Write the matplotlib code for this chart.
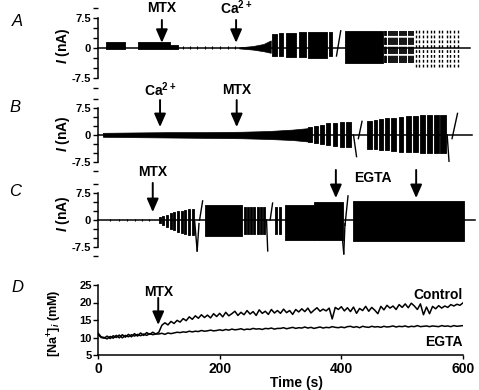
import numpy as np
import matplotlib
matplotlib.use('Agg')
from matplotlib import pyplot as plt
from matplotlib.ticker import MultipleLocator, FixedLocator

plt.rcParams['font.family'] = ['Liberation Sans', 'DejaVu Sans']
plt.rcParams['font.weight'] = 'bold'
plt.rcParams['mathtext.fontset'] = 'custom'
plt.rcParams['mathtext.rm'] = 'Liberation Sans:bold'
plt.rcParams['mathtext.it'] = 'Liberation Sans:italic:bold'
plt.rcParams['mathtext.bf'] = 'Liberation Sans:bold'

# ---------------- data (time in s, current in nA) ----------------
# blocks: (t_start, t_end, top, bottom) -> dense oscillation envelopes
# strokes: (t, top, bottom) -> single visible current swings
# spikes: (t0, y0, t1, y1) -> transient deflections

# panel A
a_blocks = [(13, 44, 1.4, -0.3), (66, 118, 1.4, -0.3), (118, 131, 0.8, -0.2),
            (286, 294, 3.5, -2.0), (298, 304, 3.7, -2.0), (309, 325, 3.8, -2.2),
            (330, 342, 4.0, -2.3), (345, 376, 4.1, -2.4), (380, 385, 4.0, -2.0),
            (406, 469, 4.3, -3.8)]
a_wedge_t = [232, 255, 272, 284]
a_wedge_hi = [0.15, 0.5, 1.0, 1.9]
a_wedge_lo = [-0.1, -0.4, -0.8, -1.2]
a_noise = [140, 152, 163, 176, 188, 201, 214, 226]
a_dense = [471, 474, 478, 481, 485, 489, 492, 496, 500, 503, 507, 511, 515, 518]
a_sparse = [523, 528, 534, 541, 547, 553, 560, 566, 573, 579, 586, 592]
a_spikes = [(392, -2.0, 399, 4.3)]

# panel B
b_band_t = [8, 60, 120, 180, 235, 280, 320, 345]
b_band_hi = [0.6, 0.7, 0.8, 0.8, 0.9, 1.1, 1.5, 1.9]
b_band_lo = [-0.5, -0.6, -0.7, -0.8, -0.9, -1.1, -1.4, -1.8]
b_blocks = [(345, 351, 2.2, -2.0), (355, 361, 2.6, -2.3), (365, 371, 2.9, -2.6),
            (375, 382, 3.2, -2.9), (386, 393, 3.4, -3.1), (397, 404, 3.5, -3.2),
            (408, 416, 3.6, -3.4),
            (443, 450, 4.0, -3.8), (453, 459, 4.2, -4.0), (462, 469, 4.4, -4.1),
            (472, 479, 4.6, -4.3), (482, 490, 4.8, -4.4), (494, 502, 5.0, -4.6),
            (506, 514, 5.2, -4.7), (518, 526, 5.4, -4.8), (530, 538, 5.5, -4.9),
            (541, 549, 5.6, -5.0), (552, 560, 5.6, -5.0), (563, 572, 5.6, -5.1)]
b_spikes = [(420, 0.0, 425, -6.0), (428, -1.0, 434, 3.8),
            (574, 0.0, 577, -7.3), (582, -1.0, 591, 6.0)]

# panel C
c_noise = [20, 35, 48, 60, 72, 84]
c_blocks = [(100, 103, 0.7, -0.9), (106, 109, 1.1, -1.5), (112, 115, 1.5, -2.0),
            (118, 121, 1.9, -2.5), (124, 127, 2.2, -2.9), (130, 133, 2.4, -3.3),
            (136, 139, 2.6, -3.6), (142, 145, 2.8, -3.9), (148, 151, 3.0, -4.1),
            (154, 157, 3.1, -4.3),
            (176, 237, 4.2, -4.4),
            (240, 243, 3.6, -3.9), (245, 248, 3.6, -3.9), (250, 253, 3.6, -3.9),
            (255, 258, 3.6, -3.9), (261, 264, 3.6, -3.9), (266, 269, 3.6, -3.9),
            (271, 274, 3.6, -3.9), (291, 294, 3.6, -3.9), (298, 301, 3.6, -3.9),
            (307, 355, 4.3, -5.5), (355, 402, 4.9, -5.5),
            (419, 602, 5.3, -5.8)]
c_spikes = [(159, -0.5, 163, -8.6), (163, -8.6, 166, -1.0), (167, 0.0, 172, 5.3),
            (277, 0.0, 279, -8.6), (283, 0.0, 287, 4.7),
            (402, -5.5, 404, -9.4), (404, -9.4, 406, -1.0), (406, -1.5, 411, 6.7)]

# panel D: [Na+]i (mM) every 5 s
d_time = np.arange(0, 601, 5)
d_control = [11.3, 10.2, 10.0, 9.6, 10.3, 9.8, 10.6, 9.9, 10.8, 10.1,
             10.9, 10.2, 11.1, 10.4, 11.3, 10.6, 11.4, 10.9, 11.5, 11.0,
             11.5, 13.5, 14.2, 13.6, 14.6, 14.0, 14.9, 14.4, 15.4, 14.8,
             15.9, 15.2, 16.2, 15.5, 16.5, 15.7, 16.4, 15.6, 16.8, 16.0,
             16.9, 15.9, 17.2, 16.2, 16.8, 17.5, 16.3, 17.2, 16.5, 17.7,
             16.7, 17.4, 16.3, 17.9, 16.9, 17.5, 16.6, 18.0, 17.0, 17.7,
             16.9, 18.1, 17.1, 17.7, 16.6, 18.0, 17.3, 18.2, 17.4, 18.4,
             17.0, 17.8, 18.5, 17.5, 18.1, 17.6, 18.4, 15.3, 18.6, 18.0,
             18.8, 17.6, 18.5, 17.4, 18.7, 16.9, 18.3, 17.7, 18.9, 17.5,
             18.6, 17.8, 16.8, 18.9, 17.9, 19.2, 18.4, 19.0, 18.0, 19.4,
             18.6, 19.6, 18.5, 19.8, 19.0, 18.0, 19.6, 16.5, 18.7, 16.8,
             18.9, 18.2, 19.1, 18.4, 19.0, 18.6, 19.4, 19.0, 19.5, 19.2,
             19.9]
d_egta = [10.9, 10.0, 9.8, 10.4, 9.7, 10.5, 10.0, 10.7, 9.9, 10.6,
          10.2, 10.8, 10.4, 10.9, 10.5, 11.0, 10.6, 11.1, 10.8, 11.0,
          11.0, 11.2, 10.9, 11.3, 11.1, 11.3, 11.5, 11.4, 11.6, 11.5,
          11.8, 11.6, 11.8, 11.7, 12.0, 11.8, 11.9, 12.1, 11.9, 12.0,
          12.2, 12.0, 12.3, 12.1, 12.4, 12.2, 12.3, 12.5, 12.2, 12.4,
          12.3, 12.6, 12.4, 12.5, 12.3, 12.6, 12.5, 12.7, 12.4, 12.6,
          12.6, 12.8, 12.5, 12.7, 12.9, 12.6, 12.8, 12.7, 13.0, 12.7,
          12.9, 12.6, 12.8, 13.0, 12.7, 12.9, 12.8, 13.1, 12.9, 12.8,
          13.0, 12.8, 13.1, 13.2, 12.9, 13.1, 12.8, 13.2, 13.0, 12.9,
          13.2, 13.0, 13.1, 12.9, 13.2, 13.0, 13.1, 13.3, 13.0, 13.2,
          13.1, 13.3, 13.0, 13.2, 13.1, 13.4, 13.1, 13.2, 13.3, 13.1,
          13.3, 13.2, 13.1, 13.4, 13.2, 13.3, 13.1, 13.4, 13.2, 13.3,
          13.4]

# drug application times (s)
a_mtx, a_ca = 105, 227
b_ca, b_mtx = 102, 228
c_mtx, c_egta1, c_egta2 = 90, 391, 523
d_mtx = 99


def draw_trace(ax, blocks, spikes, end=615):
    ax.plot([0, end], [0, 0], color='k', lw=1.1, clip_on=False)
    for t0, t1, hi, lo in blocks:
        ax.fill_between([t0, t1], [hi, hi], [lo, lo], color='k', lw=0.6,
                        edgecolor='k', clip_on=False)
    for t0, y0, t1, y1 in spikes:
        ax.plot([t0, t1], [y0, y1], color='k', lw=1.0, clip_on=False)


def style_current_axis(ax):
    ax.set_xlim(0, 600)
    ax.set_ylim(-10, 10)
    for s in ['top', 'right', 'bottom']:
        ax.spines[s].set_visible(False)
    ax.spines['left'].set_bounds(-7.5, 7.5)
    ax.spines['left'].set_linewidth(1.1)
    ax.set_xticks([])
    ax.yaxis.set_major_locator(FixedLocator([-7.5, 0, 7.5]))
    ax.yaxis.set_minor_locator(MultipleLocator(2.5))
    ax.set_yticklabels(['-7.5', '0', '7.5'])
    ax.tick_params(axis='y', which='both', length=3.5, width=1.0, pad=1.5, labelsize=8)
    ax.patch.set_visible(False)


def arrow(ax, t, tail, head, label=None, label_y=None):
    ax.annotate('', xy=(t, head), xytext=(t, tail), annotation_clip=False,
                arrowprops=dict(arrowstyle='-|>,head_length=0.8,head_width=0.35',
                                lw=1.4, color='k', shrinkA=0, shrinkB=0,
                                mutation_scale=10))
    if label:
        ax.text(t, label_y, label, ha='center', va='center', fontsize=10, clip_on=False)


W, H = 479, 390
fig = plt.figure(figsize=(W / 100, H / 100), dpi=100)
left, width = 98 / W, 365 / W

axA = fig.add_axes([left, 1 - 88 / H, width, 80 / H])
axB = fig.add_axes([left, 1 - 171 / H, width, 72 / H])
axC = fig.add_axes([left, 1 - 256 / H, width, 72 / H])
axD = fig.add_axes([left, 1 - 355 / H, width, 70 / H])

# ---- A
style_current_axis(axA)
draw_trace(axA, a_blocks, a_spikes, end=611)
axA.fill_between(a_wedge_t, a_wedge_hi, a_wedge_lo, color='k', lw=0.5)
axA.vlines(a_noise, -0.3, 0.4, color='k', lw=0.8)
axA.vlines(a_dense, -3.8, 4.3, color='k', lw=1.3, linestyles=(0, (4, 1)))
axA.vlines(a_sparse, -4.8, 4.6, color='k', lw=1.0, linestyles=(0, (2, 1.5)))
arrow(axA, a_mtx, 7.0, 1.3, 'MTX', 10.0)
arrow(axA, a_ca, 7.0, 1.3, r'Ca$^{2+}$', 10.0)

# ---- B
style_current_axis(axB)
draw_trace(axB, b_blocks, b_spikes)
axB.fill_between(b_band_t, b_band_hi, b_band_lo, color='k', lw=0.5)
arrow(axB, b_ca, 9.7, 2.2, r'Ca$^{2+}$', 12.5)
arrow(axB, b_mtx, 9.7, 2.2, 'MTX', 12.5)

# ---- C
style_current_axis(axC)
draw_trace(axC, c_blocks, c_spikes, end=620)
axC.vlines(c_noise, -0.3, 0.3, color='k', lw=0.8)
arrow(axC, c_mtx, 10.3, 2.2, 'MTX', 13.3)
arrow(axC, c_egta1, 13.9, 6.1)
arrow(axC, c_egta2, 13.9, 6.1)
axC.text((c_egta1 + c_egta2) / 2 - 5, 11.7, 'EGTA', ha='center', va='center', fontsize=10)

for ax, yc in [(axA, 46), (axB, 134), (axC, 214)]:
    fig.text(63 / W, 1 - yc / H, r'$I$ (nA)', rotation=90, ha='center', va='center',
             fontsize=10)

# ---- D
axD.plot(d_time, d_control, color='k', lw=1.1)
axD.plot(d_time, d_egta, color='k', lw=1.1)
axD.set_xlim(0, 600)
axD.set_ylim(5, 25)
for s in ['top', 'right']:
    axD.spines[s].set_visible(False)
axD.spines['left'].set_linewidth(1.1)
axD.spines['bottom'].set_linewidth(1.1)
axD.set_xticks([0, 200, 400, 600])
axD.set_yticks([5, 10, 15, 20, 25])
axD.tick_params(axis='y', length=3.5, width=1.0, pad=1, labelsize=8)
axD.tick_params(axis='x', length=3, width=1.0, pad=2, labelsize=10)
axD.patch.set_visible(False)
arrow(axD, d_mtx, 21.3, 13.6, 'MTX', 23.0)
axD.text(600, 22.1, 'Control', ha='right', va='center', fontsize=10)
axD.text(600, 8.7, 'EGTA', ha='right', va='center', fontsize=10)
fig.text(55 / W, 1 - 323 / H, r'[Na$^{+}$]$_{i}$ (mM)', rotation=90, ha='center',
         va='center', fontsize=9)
fig.text(296 / W, 1 - 383 / H, 'Time (s)', ha='center', va='center', fontsize=10)

# panel letters
for letter, (x, y) in zip('ABCD', [(17, 22), (15, 107), (15, 192), (17, 287)]):
    fig.text(x / W, 1 - y / H, letter, ha='center', va='center', fontsize=12,
             style='italic', weight='normal')

fig.savefig('out.png', dpi=100)
